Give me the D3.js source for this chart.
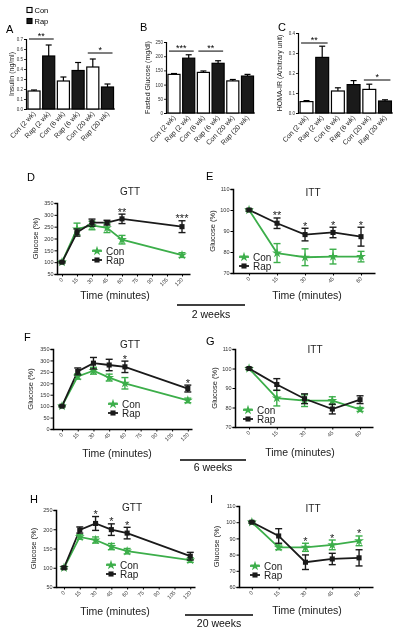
<!DOCTYPE html>
<html><head><meta charset="utf-8">
<script src="https://cdn.jsdelivr.net/npm/d3@7"></script>
<style>
body{margin:0;background:#fff;}
svg{display:block;font-family:"Liberation Sans",Arial,sans-serif;will-change:transform;}
</style></head>
<body>
<svg id="c" width="400" height="633"></svg>
<script>
// ---------- DATA ----------
const barCategories = ["Con (2 wk)", "Rap (2 wk)", "Con (6 wk)", "Rap (6 wk)", "Con (20 wk)", "Rap (20 wk)"];
const barGroups = ["Con", "Rap", "Con", "Rap", "Con", "Rap"];
const insulinMean = [0.18, 0.53, 0.28, 0.385, 0.42, 0.22];
const insulinSem  = [0.01, 0.11, 0.04, 0.08, 0.08, 0.03];
const insulinTicks = [0, 0.1, 0.2, 0.3, 0.4, 0.5, 0.6, 0.7];
const glucoseMean = [136, 193, 143, 175, 113, 130];
const glucoseSem  = [3, 12, 5, 9, 5, 6];
const glucoseTicks = [0, 50, 100, 150, 200, 250];
const homaMean = [0.057, 0.278, 0.11, 0.142, 0.118, 0.06];
const homaSem  = [0.005, 0.056, 0.016, 0.02, 0.026, 0.006];
const homaTicks = [0, 0.1, 0.2, 0.3, 0.4];

const gttTime = [0, 15, 30, 45, 60, 120];
const gttTicks = [0, 15, 30, 45, 60, 75, 90, 105, 120];
const ittTime = [0, 15, 30, 45, 60];
const ittTicks = [0, 15, 30, 45, 60];

const gtt2Con = [100, 240, 255, 245, 195, 130];
const gtt2ConSem = [3, 25, 18, 20, 18, 10];
const gtt2Rap = [100, 225, 267, 267, 283, 250];
const gtt2RapSem = [3, 15, 15, 10, 20, 25];
const gtt2Sig = ["", "", "", "", "**", "***"];

const itt2Con = [100, 79.5, 77.5, 77.8, 77.8];
const itt2ConSem = [0.5, 4.5, 4, 3.5, 2.5];
const itt2Rap = [100, 93.7, 88.3, 89.3, 87.3];
const itt2RapSem = [0.5, 2.5, 3, 2.5, 4.5];
const itt2Sig = ["", "**", "*", "*", "*"];

const gtt6Con = [100, 230, 255, 225, 200, 125];
const gtt6ConSem = [3, 12, 15, 15, 25, 10];
const gtt6Rap = [100, 252, 288, 280, 272, 177];
const gtt6RapSem = [3, 15, 25, 25, 25, 15];
const gtt6Sig = ["", "", "", "", "*", "*"];

const itt6Con = [100, 84.8, 83.5, 83.5, 79];
const itt6ConSem = [0.5, 4, 3, 2, 1];
const itt6Rap = [100, 91.8, 84.5, 79.2, 84];
const itt6RapSem = [0.5, 3, 2.5, 2.5, 2];
const itt6Sig = ["", "", "", "", ""];

const gtt20Con = [100, 180, 172, 155, 143, 120];
const gtt20ConSem = [3, 6, 8, 8, 7, 6];
const gtt20Rap = [100, 198, 215, 199, 190, 130];
const gtt20RapSem = [3, 8, 18, 15, 15, 10];
const gtt20Sig = ["", "", "*", "*", "*", ""];

const itt20Con = [100, 84.5, 84.5, 86, 88.5];
const itt20ConSem = [0.5, 1.5, 2.5, 3, 3];
const itt20Rap = [100, 91.5, 75.3, 77.3, 78];
const itt20RapSem = [0.5, 4.5, 4.5, 3.5, 5];
const itt20Sig = ["", "", "*", "*", "*"];

// ---------- DRAW ----------
const svg = d3.select("#c");
const GREEN = "#3cae4a", BLACK = "#1a1a1a";
const FONT = "Liberation Sans, Arial, sans-serif";

function barPanel(o) {
  const g = svg.append("g");
  const x = d3.scaleBand().domain(barCategories).range([o.x0, o.x1]).paddingInner(0.18).paddingOuter(0.1);
  const y = d3.scaleLinear().domain(o.domain).range([o.yb, o.yt]);
  const ya = d3.axisLeft(y).tickValues(o.ticks).tickSize(2).tickFormat(o.fmt);
  const ag = g.append("g").attr("transform", `translate(${o.axisX},0)`).call(ya);
  ag.select(".domain").attr("stroke", "#000").attr("stroke-width", 1.2);
  ag.selectAll(".tick line").attr("stroke", "#000").attr("stroke-width", 0.8);
  ag.selectAll(".tick text").attr("font-size", 4.5).attr("font-family", FONT).attr("fill", "#333").attr("x", -3);
  g.append("line").attr("x1", o.axisX).attr("x2", o.x1).attr("y1", o.yb).attr("y2", o.yb)
    .attr("stroke", "#000").attr("stroke-width", 1.2);
  const eb = g.append("g");
  barCategories.forEach((c, i) => {
    const cx = x(c) + x.bandwidth() / 2;
    const top = y(o.mean[i] + o.sem[i]);
    eb.append("line").attr("x1", cx).attr("x2", cx).attr("y1", y(o.mean[i])).attr("y2", top)
      .attr("stroke", "#000").attr("stroke-width", 1.2);
    eb.append("line").attr("x1", cx - 3).attr("x2", cx + 3).attr("y1", top).attr("y2", top)
      .attr("stroke", "#000").attr("stroke-width", 1.2);
  });
  g.selectAll("rect.bar").data(barCategories).join("rect").attr("class", "bar")
    .attr("x", c => x(c)).attr("width", x.bandwidth())
    .attr("y", (c, i) => y(o.mean[i])).attr("height", (c, i) => o.yb - y(o.mean[i]))
    .attr("fill", (c, i) => barGroups[i] === "Con" ? "#fff" : BLACK)
    .attr("stroke", "#000").attr("stroke-width", 1.2);
  g.selectAll("text.xl").data(barCategories).join("text").attr("class", "xl")
    .attr("transform", c => `translate(${x(c) + x.bandwidth() / 2 + 2},${o.yb + 5}) rotate(-47)`)
    .attr("text-anchor", "end").attr("font-size", 7).attr("font-family", FONT).attr("fill", "#222")
    .text(c => c);
  g.append("text").attr("transform", `translate(${o.titleX},${(o.yb + o.yt) / 2}) rotate(-90)`)
    .attr("text-anchor", "middle").attr("font-size", 7).attr("font-family", FONT).attr("fill", "#222").text(o.title);
  g.append("text").attr("x", o.letterX).attr("y", o.letterY).attr("font-size", 11).attr("font-family", FONT).text(o.letter);
  o.sig.forEach(s => {
    const a = x(barCategories[s.a]) + 1, b = x(barCategories[s.b]) + x.bandwidth() - 1;
    const ly = y(s.level);
    g.append("line").attr("x1", a).attr("x2", b).attr("y1", ly).attr("y2", ly).attr("stroke", "#000").attr("stroke-width", 1);
    g.append("text").attr("x", (a + b) / 2).attr("y", ly - 0.5).attr("text-anchor", "middle")
      .attr("font-size", 9).attr("font-family", FONT).attr("fill", "#000").text(s.label);
  });
}

barPanel({x0: 26.5, x1: 115, axisX: 26, yb: 109, yt: 39, domain: [0, 0.7], ticks: insulinTicks, fmt: d3.format(".1f"),
  mean: insulinMean, sem: insulinSem, title: "Insulin (ng/ml)", titleX: 14, letter: "A", letterX: 6, letterY: 33,
  sig: [{a: 0, b: 1, level: 0.70, label: "**"}, {a: 4, b: 5, level: 0.56, label: "*"}]});
barPanel({x0: 166.5, x1: 255, axisX: 166, yb: 113, yt: 42, domain: [0, 250], ticks: glucoseTicks, fmt: d3.format("d"),
  mean: glucoseMean, sem: glucoseSem, title: "Fasted Glucose (mg/dl)", titleX: 150, letter: "B", letterX: 140, letterY: 31,
  sig: [{a: 0, b: 1, level: 218, label: "***"}, {a: 2, b: 3, level: 218, label: "**"}]});
barPanel({x0: 298.5, x1: 393, axisX: 298, yb: 113, yt: 33, domain: [0, 0.4], ticks: homaTicks, fmt: d3.format(".1f"),
  mean: homaMean, sem: homaSem, title: "HOMA-IR (Arbitrary unit)", titleX: 282, letter: "C", letterX: 278, letterY: 31,
  sig: [{a: 0, b: 1, level: 0.35, label: "**"}, {a: 4, b: 5, level: 0.165, label: "*"}]});

const bl = svg.append("g");
["Con", "Rap"].forEach((k, i) => {
  bl.append("rect").attr("x", 27).attr("y", 7.5 + i * 11).attr("width", 5).attr("height", 5)
    .attr("fill", k === "Con" ? "#fff" : BLACK).attr("stroke", "#000").attr("stroke-width", 1.1);
  bl.append("text").attr("x", 34.5).attr("y", 12.5 + i * 11).attr("font-size", 7.5).attr("font-family", FONT).text(k);
});

function linePanel(o) {
  const g = svg.append("g");
  const x = d3.scaleLinear().domain(o.xdom).range([o.axisX, o.xEnd]);
  const y = d3.scaleLinear().domain(o.ydom).range([o.yb, o.yt]);
  const ya = d3.axisLeft(y).tickValues(o.yticks).tickSize(2.5).tickFormat(d3.format("d"));
  const ag = g.append("g").attr("transform", `translate(${o.axisX},0)`).call(ya);
  ag.select(".domain").attr("stroke", "#000").attr("stroke-width", 1.5);
  ag.selectAll(".tick line").attr("stroke", "#000").attr("stroke-width", 1);
  ag.selectAll(".tick text").attr("font-size", 5.5).attr("font-family", FONT).attr("fill", "#333").attr("x", -3.5);
  const xa = d3.axisBottom(x).tickValues(o.xticks).tickSize(2.5).tickSizeOuter(0).tickFormat(d3.format("d"));
  const bg = g.append("g").attr("transform", `translate(0,${o.yb})`).call(xa);
  bg.select(".domain").attr("stroke", "#000").attr("stroke-width", 1.5);
  bg.selectAll(".tick line").attr("stroke", "#000").attr("stroke-width", 1);
  bg.selectAll(".tick text").attr("font-size", 5.5).attr("font-family", FONT).attr("fill", "#333")
    .attr("text-anchor", "end").attr("dy", 0).attr("y", 0)
    .attr("transform", "translate(1,6) rotate(-45)");
  const series = [
    {v: o.con, s: o.conSem, color: GREEN, sym: d3.symbolStar, size: 30},
    {v: o.rap, s: o.rapSem, color: BLACK, sym: d3.symbolSquare, size: 26}
  ];
  series.forEach(se => {
    const line = d3.line().x((d, i) => x(o.time[i])).y(d => y(d));
    g.append("path").datum(se.v).attr("d", line).attr("fill", "none").attr("stroke", se.color).attr("stroke-width", 1.8);
  });
  series.forEach(se => {
    se.v.forEach((d, i) => {
      const cx = x(o.time[i]), t = y(d + se.s[i]), b = y(d - se.s[i]);
      g.append("line").attr("x1", cx).attr("x2", cx).attr("y1", t).attr("y2", b).attr("stroke", se.color).attr("stroke-width", 1.4);
      [t, b].forEach(yy => g.append("line").attr("x1", cx - 3.5).attr("x2", cx + 3.5).attr("y1", yy).attr("y2", yy)
        .attr("stroke", se.color).attr("stroke-width", 1.4));
    });
    g.selectAll(null).data(se.v).join("path")
      .attr("d", d3.symbol().type(se.sym).size(se.size))
      .attr("transform", (d, i) => `translate(${x(o.time[i])},${y(d)})`)
      .attr("fill", se.color);
  });
  o.sig.forEach((s, i) => {
    if (!s) return;
    const top = Math.min(y(o.con[i] + o.conSem[i]), y(o.rap[i] + o.rapSem[i]));
    g.append("text").attr("x", x(o.time[i])).attr("y", top + 1.5).attr("text-anchor", "middle")
      .attr("font-size", 11).attr("font-family", FONT).attr("fill", "#222").text(s);
  });
  g.append("text").attr("x", o.titleX).attr("y", o.titleY).attr("text-anchor", "middle")
    .attr("font-size", 10).attr("font-family", FONT).attr("fill", "#222").text(o.title);
  g.append("text").attr("x", o.letterX).attr("y", o.letterY).attr("font-size", 11).attr("font-family", FONT).text(o.letter);
  g.append("text").attr("transform", `translate(${o.ylabX},${(o.yb + o.yt) / 2}) rotate(-90)`)
    .attr("text-anchor", "middle").attr("font-size", 7.5).attr("font-family", FONT).attr("fill", "#222").text("Glucose (%)");
  g.append("text").attr("x", o.xlabX).attr("y", o.xlabY).attr("text-anchor", "middle")
    .attr("font-size", 10.5).attr("font-family", FONT).attr("fill", "#222").text("Time (minutes)");
  series.forEach((se, k) => {
    const ly = o.legY + k * 9;
    g.append("line").attr("x1", o.legX - 5).attr("x2", o.legX + 5).attr("y1", ly).attr("y2", ly).attr("stroke", se.color).attr("stroke-width", 1.8);
    g.append("path").attr("d", d3.symbol().type(se.sym).size(se.size)).attr("transform", `translate(${o.legX},${ly})`).attr("fill", se.color);
    g.append("text").attr("x", o.legX + 9).attr("y", ly + 3.6).attr("font-size", 10).attr("font-family", FONT).attr("fill", "#222")
      .text(k === 0 ? "Con" : "Rap");
  });
}

linePanel({letter: "D", letterX: 27, letterY: 181, title: "GTT", titleX: 130, titleY: 195,
  axisX: 57, xEnd: 190, xdom: [-5, 128], yb: 274, yt: 203, ydom: [50, 350], yticks: [50,100,150,200,250,300,350],
  xticks: gttTicks, time: gttTime, con: gtt2Con, conSem: gtt2ConSem, rap: gtt2Rap, rapSem: gtt2RapSem, sig: gtt2Sig,
  ylabX: 38, xlabX: 115, xlabY: 299, legX: 97, legY: 251});
linePanel({letter: "E", letterX: 206, letterY: 180, title: "ITT", titleX: 313, titleY: 196,
  axisX: 233, xEnd: 375, xdom: [-8.6, 67.5], yb: 273, yt: 189, ydom: [70, 110], yticks: [70,80,90,100,110],
  xticks: ittTicks, time: ittTime, con: itt2Con, conSem: itt2ConSem, rap: itt2Rap, rapSem: itt2RapSem, sig: itt2Sig,
  ylabX: 215, xlabX: 307, xlabY: 299, legX: 244, legY: 257});
linePanel({letter: "F", letterX: 24, letterY: 341, title: "GTT", titleX: 130, titleY: 348,
  axisX: 53, xEnd: 192, xdom: [-8.6, 124], yb: 429, yt: 349, ydom: [0, 350], yticks: [0,50,100,150,200,250,300,350],
  xticks: gttTicks, time: gttTime, con: gtt6Con, conSem: gtt6ConSem, rap: gtt6Rap, rapSem: gtt6RapSem, sig: gtt6Sig,
  ylabX: 33, xlabX: 117, xlabY: 457, legX: 113, legY: 404});
linePanel({letter: "G", letterX: 206, letterY: 345, title: "ITT", titleX: 315, titleY: 353,
  axisX: 235, xEnd: 373, xdom: [-7.6, 67], yb: 427, yt: 349, ydom: [70, 110], yticks: [70,80,90,100,110],
  xticks: ittTicks, time: ittTime, con: itt6Con, conSem: itt6ConSem, rap: itt6Rap, rapSem: itt6RapSem, sig: itt6Sig,
  ylabX: 217, xlabX: 300, xlabY: 456, legX: 248, legY: 410});
linePanel({letter: "H", letterX: 30, letterY: 503, title: "GTT", titleX: 132, titleY: 511,
  axisX: 56, xEnd: 195, xdom: [-7.6, 124.5], yb: 587, yt: 510, ydom: [50, 250], yticks: [50,100,150,200,250],
  xticks: gttTicks, time: gttTime, con: gtt20Con, conSem: gtt20ConSem, rap: gtt20Rap, rapSem: gtt20RapSem, sig: gtt20Sig,
  ylabX: 36, xlabX: 115, xlabY: 615, legX: 111, legY: 565});
linePanel({letter: "I", letterX: 210, letterY: 503, title: "ITT", titleX: 313, titleY: 512,
  axisX: 239, xEnd: 373, xdom: [-7.2, 67.8], yb: 587, yt: 506, ydom: [60, 110], yticks: [60,70,80,90,100,110],
  xticks: ittTicks, time: ittTime, con: itt20Con, conSem: itt20ConSem, rap: itt20Rap, rapSem: itt20RapSem, sig: itt20Sig,
  ylabX: 219, xlabX: 307, xlabY: 614, legX: 255, legY: 566});

[{x1: 177, x2: 245, y: 305, ty: 318, t: "2 weeks"},
 {x1: 180, x2: 246, y: 460, ty: 471, t: "6 weeks"},
 {x1: 185, x2: 253, y: 615, ty: 627, t: "20 weeks"}].forEach(w => {
  svg.append("line").attr("x1", w.x1).attr("x2", w.x2).attr("y1", w.y).attr("y2", w.y).attr("stroke", "#000").attr("stroke-width", 1.5);
  svg.append("text").attr("x", (w.x1 + w.x2) / 2).attr("y", w.ty).attr("text-anchor", "middle")
    .attr("font-size", 10.5).attr("font-family", FONT).attr("fill", "#111").text(w.t);
});
</script>
</body></html>
